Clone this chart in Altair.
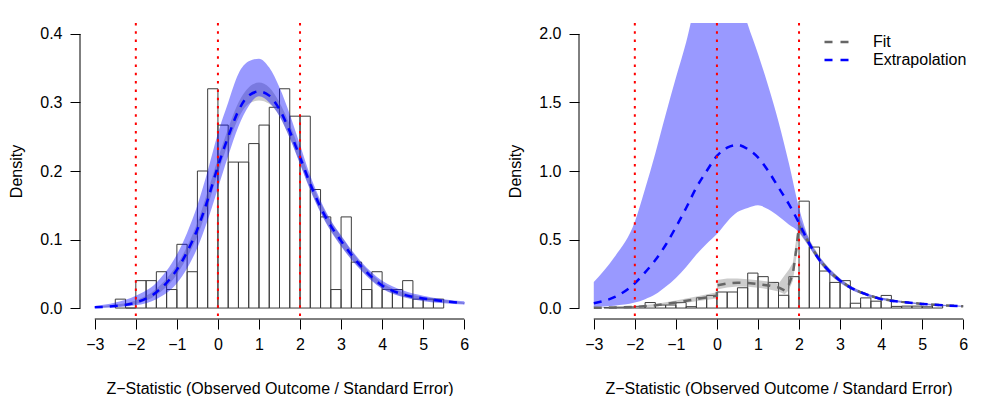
import altair as alt
import pandas as pd

FONT = "Liberation Sans"
W, H = 399, 296

# ---------------- tick labels ----------------
x_ticks = [-3, -2, -1, 0, 1, 2, 3, 4, 5, 6]
yl_ticks = [0.0, 0.1, 0.2, 0.3, 0.4]
yr_ticks = [0.0, 0.5, 1.0, 1.5, 2.0]
ref_lines = [-2, 0, 2]
series_names = ["Fit", "Extrapolation"]

# ---------------- left panel ----------------
left_bin_lo = [-2.5, -2.25, -2.0, -1.75, -1.5, -1.25, -1.0, -0.75, -0.5, -0.25,
               0.0, 0.25, 0.5, 0.75, 1.0, 1.25, 1.5, 1.75, 2.0, 2.25,
               2.5, 2.75, 3.0, 3.25, 3.5, 3.75, 4.0, 4.25, 4.5, 4.75, 5.0, 5.25]
left_density = [0.013, 0.0, 0.040, 0.040, 0.053, 0.027, 0.093, 0.053, 0.200, 0.320,
                0.267, 0.213, 0.213, 0.240, 0.267, 0.293, 0.320, 0.280, 0.280, 0.173,
                0.133, 0.027, 0.133, 0.067, 0.027, 0.053, 0.027, 0.027, 0.040, 0.013, 0.013, 0.013]

left_x = [-3, -2.5, -2, -1.5, -1, -0.75, -0.5, -0.25, 0, 0.25, 0.5, 0.75, 1, 1.25,
          1.5, 1.75, 2, 2.25, 2.5, 2.75, 3, 3.5, 4, 4.5, 5, 5.5, 6]
left_extrap = [0.001, 0.003, 0.008, 0.023, 0.056, 0.082, 0.115, 0.158, 0.207, 0.250,
               0.288, 0.310, 0.316, 0.310, 0.290, 0.258, 0.220, 0.181, 0.147, 0.120,
               0.098, 0.060, 0.033, 0.020, 0.014, 0.010, 0.007]
left_blue_lo = [0.000, 0.001, 0.004, 0.013, 0.036, 0.058, 0.088, 0.128, 0.175, 0.222,
                0.265, 0.295, 0.309, 0.300, 0.280, 0.248, 0.210, 0.172, 0.139, 0.112,
                0.090, 0.054, 0.028, 0.016, 0.010, 0.007, 0.005]
left_blue_hi = [0.003, 0.008, 0.018, 0.037, 0.078, 0.110, 0.150, 0.200, 0.255, 0.300,
                0.342, 0.360, 0.364, 0.351, 0.322, 0.283, 0.238, 0.193, 0.157, 0.128,
                0.106, 0.067, 0.040, 0.026, 0.018, 0.013, 0.010]
left_grey_lo = [0.000, 0.002, 0.006, 0.019, 0.049, 0.074, 0.105, 0.148, 0.197, 0.240,
                0.277, 0.298, 0.303, 0.298, 0.280, 0.248, 0.211, 0.173, 0.140, 0.113,
                0.091, 0.055, 0.029, 0.017, 0.011, 0.008, 0.006]
left_grey_hi = [0.002, 0.005, 0.011, 0.028, 0.063, 0.090, 0.125, 0.170, 0.218, 0.262,
                0.300, 0.322, 0.329, 0.322, 0.300, 0.268, 0.229, 0.188, 0.154, 0.127,
                0.105, 0.065, 0.037, 0.023, 0.016, 0.012, 0.008]

# ---------------- right panel ----------------
right_bin_lo = [-2.75, -2.5, -2.25, -2.0, -1.75, -1.5, -1.25, -1.0, -0.75, -0.5, -0.25,
                0.0, 0.25, 0.5, 0.75, 1.0, 1.25, 1.5, 1.75, 2.0, 2.25,
                2.5, 2.75, 3.0, 3.25, 3.5, 3.75, 4.0, 4.25, 4.5, 4.75, 5.0, 5.25]
right_density = [0.004, 0.006, 0.008, 0.012, 0.040, 0.022, 0.022, 0.040, 0.010, 0.075, 0.092,
                 0.117, 0.117, 0.148, 0.255, 0.229, 0.187, 0.093, 0.229, 0.780, 0.445,
                 0.270, 0.187, 0.200, 0.035, 0.074, 0.050, 0.092, 0.012, 0.014, 0.014, 0.009, 0.025]

right_x = [-3, -2.5, -2, -1.75, -1.5, -1.25, -1, -0.75, -0.5, -0.25, 0, 0.25, 0.5, 0.75,
           1, 1.25, 1.5, 1.75, 2, 2.25, 2.5, 2.75, 3, 3.25, 3.5, 3.75, 4, 4.5, 5, 5.5, 6]
right_extrap = [0.035, 0.079, 0.180, 0.260, 0.350, 0.460, 0.590, 0.730, 0.880, 1.000,
                1.110, 1.170, 1.190, 1.160, 1.100, 1.000, 0.880, 0.760, 0.620, 0.470,
                0.350, 0.265, 0.200, 0.150, 0.115, 0.088, 0.065, 0.045, 0.030, 0.020, 0.013]
right_blue_lo = [0.008, 0.017, 0.040, 0.065, 0.100, 0.155, 0.220, 0.300, 0.390, 0.470,
                 0.540, 0.630, 0.700, 0.730, 0.750, 0.720, 0.670, 0.610, 0.555, 0.445,
                 0.330, 0.245, 0.185, 0.138, 0.104, 0.079, 0.060, 0.038, 0.024, 0.015, 0.009]
right_blue_hi = [0.190, 0.370, 0.630, 0.870, 1.130, 1.410, 1.680, 1.940, 2.250, 2.450,
                 2.550, 2.500, 2.320, 2.070, 1.855, 1.620, 1.360, 1.060, 0.730, 0.500,
                 0.375, 0.285, 0.215, 0.162, 0.125, 0.097, 0.076, 0.051, 0.035, 0.024, 0.017]

fit_x = [-3, -2.5, -2, -1.5, -1, -0.5, -0.001, 0, 0.25, 0.5, 0.75, 1, 1.25, 1.5, 1.65,
         1.75, 1.85, 1.93, 2, 2.25, 2.5, 2.75, 3, 3.25, 3.5, 3.75, 4, 4.5, 5, 5.5, 6]
fit_y = [0.002, 0.004, 0.008, 0.020, 0.040, 0.065, 0.090, 0.165, 0.180, 0.185, 0.183,
         0.175, 0.165, 0.150, 0.128, 0.170, 0.250, 0.420, 0.600, 0.470, 0.350, 0.265,
         0.200, 0.150, 0.115, 0.088, 0.065, 0.045, 0.030, 0.020, 0.013]
fit_lo = [0.000, 0.001, 0.004, 0.012, 0.028, 0.050, 0.070, 0.135, 0.150, 0.158, 0.155,
          0.148, 0.138, 0.120, 0.100, 0.130, 0.200, 0.360, 0.550, 0.445, 0.330, 0.245,
          0.185, 0.138, 0.104, 0.079, 0.060, 0.038, 0.024, 0.015, 0.009]
fit_hi = [0.004, 0.007, 0.014, 0.030, 0.055, 0.085, 0.115, 0.205, 0.215, 0.215, 0.210,
          0.203, 0.193, 0.178, 0.240, 0.280, 0.330, 0.500, 0.660, 0.500, 0.375, 0.285,
          0.215, 0.162, 0.125, 0.097, 0.076, 0.051, 0.035, 0.024, 0.017]

# ---------------- helpers ----------------
x_scale = alt.Scale(domain=[-3.36, 6.36], nice=False, zero=False)
x_axis = alt.Axis(values=x_ticks, format="d", domain=False, grid=False, tickSize=10,
                  labelPadding=7, titlePadding=28,
                  title="Z\u2212Statistic (Observed Outcome / Standard Error)")


def y_axis(ticks):
    return alt.Axis(values=ticks, format=".1f", domain=False, grid=False, tickSize=10,
                    labelPadding=8, titlePadding=15, title="Density")


def hist_layer(lo, dens, ys, ya):
    df = pd.DataFrame({"lo": lo, "d": dens})
    df["hi"] = df["lo"] + 0.25
    df["zero"] = 0.0
    return alt.Chart(df).mark_rect(fill="transparent", stroke="#3c3c3c", strokeWidth=1).encode(
        x=alt.X("lo:Q", scale=x_scale, axis=x_axis),
        x2="hi:Q",
        y=alt.Y("d:Q", scale=ys, axis=ya),
        y2="zero:Q",
    )


def band_layer(xs, lo, hi, color, opacity, ys, ya, interp="monotone"):
    df = pd.DataFrame({"x": xs, "lo": lo, "hi": hi})
    return alt.Chart(df).mark_area(color=color, opacity=opacity, interpolate=interp,
                                   clip=True).encode(
        x=alt.X("x:Q", scale=x_scale, axis=x_axis),
        y=alt.Y("lo:Q", scale=ys, axis=ya),
        y2="hi:Q",
    )


def line_layer(xs, vals, name, ys, ya, color_enc, interp="monotone"):
    df = pd.DataFrame({"x": xs, "v": vals, "series": name})
    return alt.Chart(df).mark_line(strokeWidth=2.5, strokeDash=[8, 7], interpolate=interp,
                                   clip=True).encode(
        x=alt.X("x:Q", scale=x_scale, axis=x_axis),
        y=alt.Y("v:Q", scale=ys, axis=ya),
        color=color_enc,
    )


def deco_layers(ys, ya, ytop):
    red = alt.Chart(pd.DataFrame({"x": ref_lines})).mark_rule(
        color="red", strokeWidth=2, strokeDash=[2.5, 5.8]).encode(
        x=alt.X("x:Q", scale=x_scale, axis=x_axis))
    xline = alt.Chart(pd.DataFrame({"a": [x_ticks[0]], "b": [x_ticks[-1]]})).mark_rule(
        color="black", strokeWidth=1).encode(
        x=alt.X("a:Q", scale=x_scale, axis=x_axis), x2="b:Q", y=alt.value(H))
    yline = alt.Chart(pd.DataFrame({"a": [0.0], "b": [ytop]})).mark_rule(
        color="black", strokeWidth=1).encode(
        y=alt.Y("a:Q", scale=ys, axis=ya), y2="b:Q", x=alt.value(0))
    return [red, xline, yline]


# ---------------- left chart ----------------
yl_scale = alt.Scale(domain=[-0.016, 0.416], nice=False, zero=False)
yl_axis = y_axis(yl_ticks)
left = alt.layer(
    hist_layer(left_bin_lo, left_density, yl_scale, yl_axis),
    band_layer(left_x, left_grey_lo, left_grey_hi, "#808080", 0.4, yl_scale, yl_axis),
    band_layer(left_x, left_blue_lo, left_blue_hi, "#0000ff", 0.4, yl_scale, yl_axis),
    line_layer(left_x, left_extrap, "Extrapolation", yl_scale, yl_axis, alt.value("#0000ff")),
    *deco_layers(yl_scale, yl_axis, yl_ticks[-1]),
).properties(width=W, height=H)

# ---------------- right chart ----------------
yr_scale = alt.Scale(domain=[-0.08, 2.08], nice=False, zero=False)
yr_axis = y_axis(yr_ticks)
legend = alt.Legend(title=None, orient="none", legendX=250, legendY=11,
                    symbolType="M-2,0L2,0", symbolSize=156.25, symbolStrokeWidth=2.5,
                    symbolDash=[8, 8], labelFontSize=16, labelFont=FONT, labelColor="black",
                    labelOffset=28, rowPadding=2, padding=0)
color_enc = alt.Color("series:N", scale=alt.Scale(domain=series_names,
                                                  range=["#666666", "#0000ff"]),
                      legend=legend)
right = alt.layer(
    hist_layer(right_bin_lo, right_density, yr_scale, yr_axis),
    band_layer(fit_x, fit_lo, fit_hi, "#808080", 0.4, yr_scale, yr_axis, interp="linear"),
    band_layer(right_x, right_blue_lo, right_blue_hi, "#0000ff", 0.4, yr_scale, yr_axis),
    line_layer(fit_x, fit_y, "Fit", yr_scale, yr_axis, color_enc, interp="linear"),
    line_layer(right_x, right_extrap, "Extrapolation", yr_scale, yr_axis, color_enc),
    *deco_layers(yr_scale, yr_axis, yr_ticks[-1]),
).properties(width=W, height=H)

chart = alt.hconcat(left, right, spacing=28).resolve_scale(
    color="independent", y="independent"
).properties(
    padding={"left": 0, "top": 14, "right": 0, "bottom": 0}
).configure(font=FONT).configure_view(stroke=None).configure_axis(
    labelFont=FONT, titleFont=FONT, labelFontSize=16, titleFontSize=16,
    titleFontWeight="normal", labelColor="black", titleColor="black",
    tickColor="black", tickWidth=1,
)

chart.save("out.html", embed_options={"renderer": "svg", "actions": False})
